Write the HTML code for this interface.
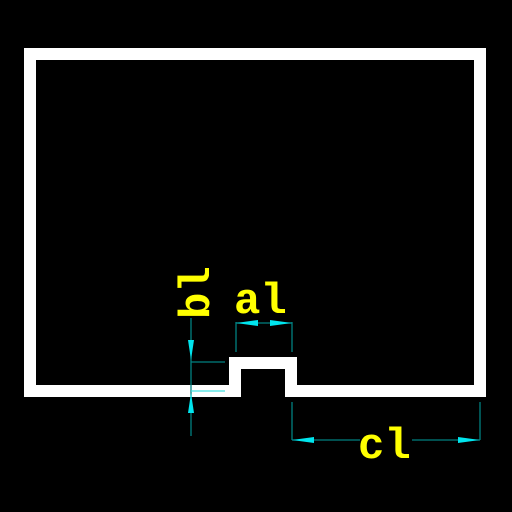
<!DOCTYPE html>
<html><head><style>body{margin:0;background:#000}svg{display:block}</style></head><body>
<svg width="512" height="512" viewBox="0 0 512 512">
<rect width="512" height="512" fill="#000"/>
<path d="M30 391 L30 54 L480 54 L480 391 L291 391 L291 363 L235 363 L235 391 Z" fill="none" stroke="#fff" stroke-width="12" stroke-linejoin="miter"/>
<g stroke="#008080" stroke-width="1.3" fill="none">
<line x1="191" y1="318" x2="191" y2="436"/>
<line x1="191" y1="362" x2="225" y2="362"/>
<line x1="191" y1="391" x2="225" y2="391" stroke="#40e0e0"/>
<line x1="236" y1="322" x2="236" y2="352"/>
<line x1="292" y1="322" x2="292" y2="352"/>
<line x1="236" y1="323" x2="292" y2="323"/>
<line x1="292" y1="402" x2="292" y2="440"/>
<line x1="480" y1="402" x2="480" y2="440"/>
<line x1="292" y1="440" x2="360" y2="440"/>
<line x1="412" y1="440" x2="480" y2="440"/>
</g>
<g fill="#00e5ee">
<polygon points="191,360 188,340 194,340"/>
<polygon points="191,393 188,413 194,413"/>
<polygon points="236,323 258,320 258,326"/>
<polygon points="292,323 270,320 270,326"/>
<polygon points="292,440 314,437 314,443"/>
<polygon points="480,440 458,437 458,443"/>
</g>
<g font-family="Liberation Mono, monospace" font-weight="bold" font-size="44" fill="#ffff00">
<text x="234" y="313">al</text>
<text x="358" y="458">cl</text>
<text transform="translate(209,319) rotate(-90)" x="0" y="0">bl</text>
</g>
</svg>
</body></html>
